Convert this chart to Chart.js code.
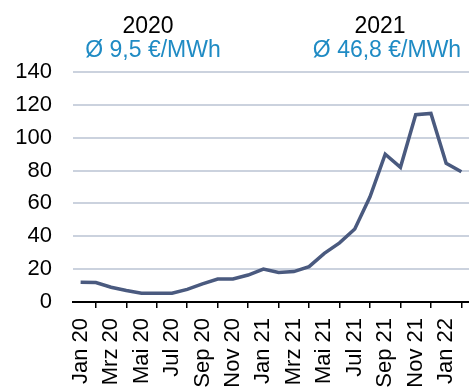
<!DOCTYPE html>
<html>
<head>
<script src="https://cdn.jsdelivr.net/npm/chart.js"></script>
<style>
    body { margin: 0; padding: 0; background: white; }
    #wrap { width: 469px; height: 389px; position: relative; }
</style>
</head>
<body>
<div id="wrap"><canvas id="priceChart"></canvas></div>
<script>
const months = ['Jan 20', 'Feb 20', 'Mrz 20', 'Apr 20', 'Mai 20', 'Jun 20', 'Jul 20', 'Aug 20', 'Sep 20', 'Okt 20', 'Nov 20', 'Dez 20',
    'Jan 21', 'Feb 21', 'Mrz 21', 'Apr 21', 'Mai 21', 'Jun 21', 'Jul 21', 'Aug 21', 'Sep 21', 'Okt 21', 'Nov 21', 'Dez 21',
    'Jan 22', 'Feb 22'];
const prices = [12, 11.8, 9, 7, 5.3, 5.3, 5.3, 7.7, 11, 14, 14, 16.4,
    20, 18, 18.5, 21.5, 29.6, 36, 44.4, 64, 90, 82, 114, 114.8,
    84.4, 79.3];
const yTicks = [0, 20, 40, 60, 80, 100, 120, 140];
const yearTitles = ['2020', '2021'];
const yearAverages = ['Ø 9,5 €/MWh', 'Ø 46,8 €/MWh'];

// year headers above the plot
const headerPlugin = {
    id: 'headers',
    afterDraw(chart) {
        const ctx = chart.ctx;
        const titleX = [148, 380];
        const avgX = [153, 387];
        ctx.save();
        ctx.textAlign = 'center';
        ctx.textBaseline = 'alphabetic';
        ctx.font = '23px "Liberation Sans", Arial, sans-serif';
        for (let i = 0; i < yearTitles.length; i++) {
            ctx.fillStyle = '#000';
            ctx.fillText(yearTitles[i], titleX[i], 33);
            ctx.fillStyle = '#1f8bc4';
            ctx.fillText(yearAverages[i], avgX[i], 57);
        }
        ctx.restore();
    }
};

new Chart(document.getElementById('priceChart'), {
    type: 'line',
    data: {
        labels: months,
        datasets: [{
            data: prices,
            borderColor: '#4a5a7f',
            borderWidth: 3.5,
            pointRadius: 0,
            tension: 0,
            fill: false
        }]
    },
    options: {
        responsive: true,
        maintainAspectRatio: false,
        animation: false,
        layout: { padding: { top: 72, right: 0, left: 0, bottom: 0 } },
        plugins: {
            legend: { display: false },
            tooltip: { enabled: false }
        },
        scales: {
            x: {
                offset: true,
                grid: {
                    offset: true,
                    drawOnChartArea: false,
                    drawTicks: true,
                    tickLength: 6,
                    color: '#000',
                    lineWidth: 1.5
                },
                border: { color: '#000', width: 2 },
                ticks: {
                    autoSkip: false,
                    minRotation: 90,
                    maxRotation: 90,
                    padding: 10,
                    color: '#000',
                    font: { family: '"Liberation Sans", Arial, sans-serif', size: 22 },
                    callback: function (value, index) {
                        return index % 2 === 0 ? this.getLabelForValue(value) : null;
                    }
                },
                afterFit: (scale) => {
                    scale.height = 87;
                    scale.paddingRight = 0;
                    scale.paddingLeft = 0;
                }
            },
            y: {
                min: 0,
                max: 140,
                afterBuildTicks: (scale) => { scale.ticks = yTicks.map(v => ({ value: v })); },
                grid: { color: '#cbd2de', lineWidth: 2, drawTicks: false },
                border: { display: false },
                ticks: {
                    padding: 21,
                    color: '#000',
                    font: { family: '"Liberation Sans", Arial, sans-serif', size: 22 }
                },
                afterFit: (scale) => { scale.width = 73; }
            }
        }
    },
    plugins: [headerPlugin]
});
</script>
</body>
</html>
